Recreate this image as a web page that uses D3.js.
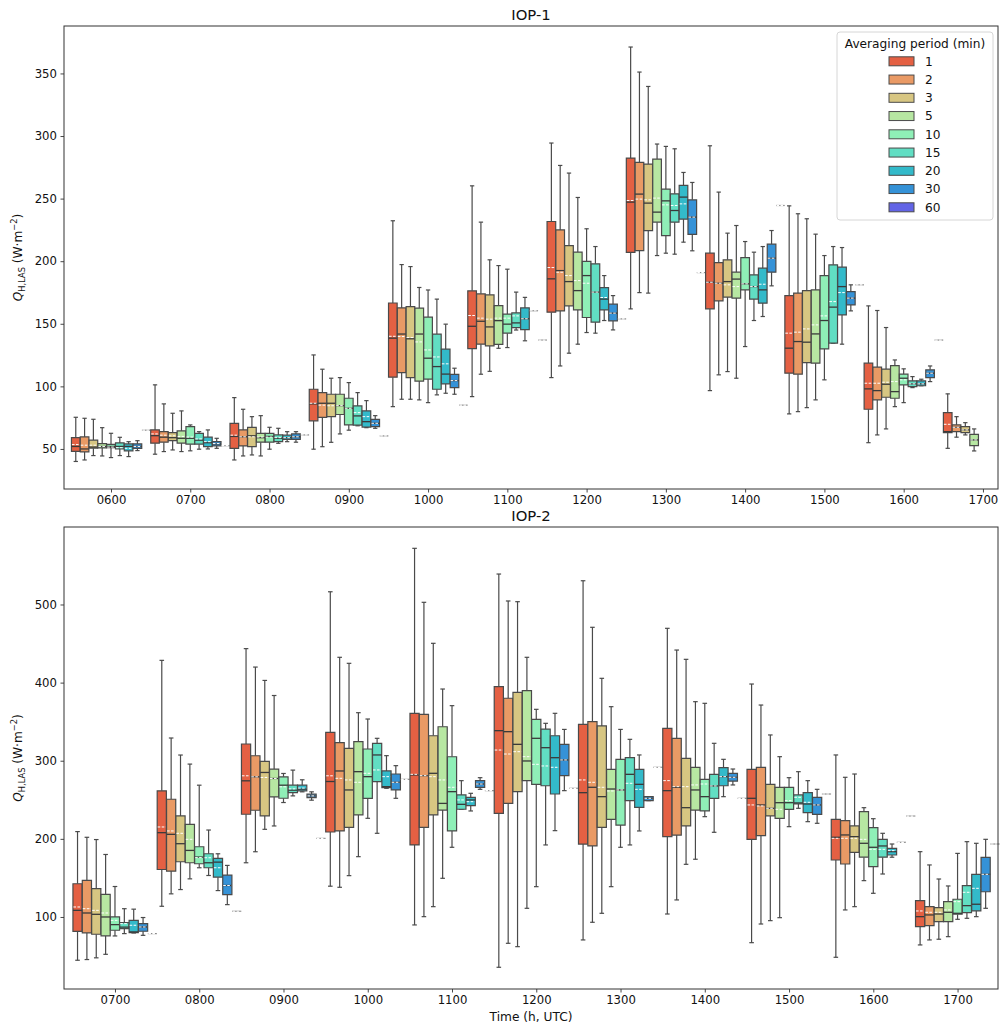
<!DOCTYPE html>
<html>
<head>
<meta charset="utf-8">
<script src="https://cdn.jsdelivr.net/npm/d3@7"></script>
<style>
  body { margin: 0; background: #fff; }
  text { font-family: "DejaVu Sans", sans-serif; }
</style>
</head>
<body>
<svg id="chart" width="1006" height="1026"></svg>
<script>
// averaging periods (hue levels) and their colours
const periods = ["1", "2", "3", "5", "10", "15", "20", "30", "60"];
const colors = ["#e46043", "#e99a65", "#d7c682", "#b7e7a2", "#8fefb7", "#61dec3", "#33baca", "#3592d7", "#6264e6"];

// each box: [whisker low, q1, median, q3, whisker high, mean]; a single number = one value; null = no data
const iop1Hours = ["0600", "0700", "0800", "0900", "1000", "1100", "1200", "1300", "1400", "1500", "1600", "1700"];
const iop1Boxes = [
  [[40, 48, 52, 59, 75.3, 53.5], [41.2, 47.6, 50, 59.6, 74.5, 53], [44.7, 50.6, 51.5, 57, 73.7, 53], [44.4, 50.8, 52, 54.2, 67, 52], [43.1, 51, 52, 53.6, 62.5, 51.5], [44.7, 50, 52, 54.8, 59.3, 51], [43.9, 48.5, 52, 54, 55.8, 50.5], [48.7, 50.5, 52, 54, 56.6, 52], 65],
  [[45.8, 54.6, 60.6, 65.2, 101.2, 62], [47.9, 55.4, 59.4, 63.8, 86, 61], [49.2, 56.6, 59, 63, 78.5, 60.5], [47.9, 54.7, 58.5, 64.4, 80.4, 60], [48.5, 53.8, 58.5, 67.8, 69.2, 59.5], [49.8, 53.8, 57, 62.4, 63.8, 58], [50, 51.8, 55, 59.4, 65.2, 55.8], [50.5, 52.4, 54, 55.8, 58.5, 54.3], 52.6],
  [[41.2, 50.5, 60, 70.5, 91, 61], [44.4, 52.4, 59.7, 65.2, 81.7, 59.7], [45.2, 51.8, 60.5, 67.3, 75.8, 59.7], [44.4, 55.4, 59, 62.5, 76.6, 59.5], [49.8, 55.4, 60, 62.5, 67.3, 59.5], [54.5, 55.8, 58.5, 61.2, 66.5, 59], [55.8, 57.7, 59, 61, 63.8, 59], [55.4, 57.7, 59.7, 62, 63.8, 59.7], 61.2],
  [[49.8, 72.5, 86, 97.7, 125.1, 86.5], [51.8, 75.3, 86.5, 95, 113.7, 85], [55.3, 75.8, 86.5, 93.7, 106.5, 84.5], [62, 77.5, 84.6, 93.7, 107, 84.6], [65, 69.2, 82.5, 90.5, 103, 82.5], [68.5, 69, 76.4, 84.4, 95, 79], [67, 67.5, 71.8, 80.4, 88.6, 75.8], [66.5, 67.8, 70.5, 73.7, 76.6, 70.5], 60.4],
  [[83.8, 107.3, 138.5, 166.6, 232.3, 140], [89.7, 111, 141.8, 162.7, 197.3, 139.8], [89.7, 107, 138, 163.7, 195.7, 139], [89.2, 104.2, 141.8, 162.5, 179, 135.5], [87, 105.8, 122.5, 155.3, 177, 129.1], [93.2, 97.7, 115.8, 141.7, 169.7, 123.5], [94.5, 102, 109.8, 129.7, 149.7, 118], [93.7, 99, 104.6, 109.5, 114.5, 104.6], 85],
  [[91.8, 130.2, 148, 176.3, 260.2, 156.6], [109.7, 133.7, 152, 173.9, 231.2, 154.5], [112, 132.3, 147.5, 173.1, 201.1, 153.7], [130.4, 133.6, 152.5, 164.5, 196.5, 154.5], [131, 142.5, 149.7, 157.7, 193.6, 154.5], [145, 147, 150.7, 158.7, 175.3, 156.3], [136.4, 145.4, 154, 162.7, 171.1, 154], 160.4, 137],
  [[107, 159.3, 185.9, 231.7, 294.4, 194.9], [116.3, 160.3, 192.5, 225, 276.5, 191.2], [126.5, 164.3, 183.7, 212.5, 270.4, 188.5], [133.7, 161.1, 176.5, 207.2, 250.9, 184.5], [143, 155, 188.5, 199.8, 225.9, 182.4], [142.5, 151.3, 175.3, 197.9, 211.7, 175.3], [152.6, 161.1, 169.7, 178.9, 188.5, 171], [145.1, 152.3, 158.5, 165.7, 172.5, 158.5], 153.9],
  [[161.9, 207, 247.2, 282.4, 371.1, 248.5], [174.9, 208.5, 253.6, 279, 351.1, 249.6], [174.5, 224.5, 246.4, 277.6, 339.6, 249], [204.5, 231.2, 239.2, 281.6, 293.6, 250.4], [206.4, 220.5, 248.2, 257.5, 291.7, 245], [205.6, 231.2, 240.5, 253.8, 289.8, 244.5], [215.2, 233.6, 251.2, 260.5, 270.9, 245.8], [208.3, 221.5, 235.2, 249, 262.9, 235.2], 190.9],
  [[96.6, 161.9, 183.2, 206.4, 292.2, 183.2], [109.2, 168.3, 182.4, 198.9, 255.2, 182.4], [111.8, 171.3, 183.7, 201.1, 222.4, 181.1], [106.5, 170.5, 185.7, 191.2, 228.5, 179.7], [131.8, 177.1, 181.9, 202.9, 215.7, 181.9], [152.6, 169.7, 179.7, 189.1, 207.2, 179.7], [155.8, 166.5, 177.1, 194.4, 211.7, 181.6], [180.3, 191.2, 202.4, 213.6, 224.5, 202.4], 244.5],
  [[78, 110.5, 130.5, 172.5, 244.2, 142.5], [79.8, 109.7, 135.8, 174.5, 237.9, 143.3], [83, 119, 135.3, 176.5, 233.9, 145.9], [89.2, 118.5, 141.9, 177.1, 221.6, 149.1], [105.2, 129.9, 152.6, 188.5, 204.5, 156.3], [134.5, 134.5, 163.3, 197.1, 211.7, 167.7], [133.7, 157.1, 179.7, 195.2, 210.9, 174.9], [160.3, 165.1, 170.5, 175.7, 181.1, 170.5], 181.1],
  [[55, 81.7, 98, 118.5, 164.3, 102.5], [61.2, 89.2, 96.6, 115.3, 160.6, 102.5], [66, 91.3, 101.7, 113.7, 147, 103.3], [83.8, 90.5, 95.8, 116.6, 121.1, 103.8], [87, 101.2, 106.5, 109.7, 114, 105.2], [99, 99.8, 102, 104.4, 107.8, 102], [100.5, 100.5, 102, 104.4, 105.7, 102], [103.8, 107, 110.5, 113.2, 116.3, 110.5], 137],
  [[50.5, 63, 63.8, 79, 94, 69.7], [59.4, 63.8, 67.3, 69.2, 75.8, 67.3], [61.2, 63, 65.2, 67.8, 71, 65.2], [48.4, 52.6, 57.2, 61.7, 66, 57.2], null, null, null, null, null]
];
const iop1YTicks = [50, 100, 150, 200, 250, 300, 350];

const iop2Hours = ["0700", "0800", "0900", "1000", "1100", "1200", "1300", "1400", "1500", "1600", "1700"];
const iop2Boxes = [
  [[44.6, 81.6, 108.5, 142.5, 209.3, 112.8], [45.5, 79.6, 105.1, 146.8, 202, 110.6], [47.7, 77.9, 103.4, 136.2, 199.1, 108.5], [52.2, 75.8, 100, 129, 180, 105.1], [75.7, 83, 90.2, 100, 139, 95.7], [78.7, 85.1, 87, 92.8, 110.6, 91.5], [79.5, 80, 80.9, 95.7, 110, 89.4], [76.5, 81.7, 87.2, 91.5, 99.3, 87.2], 78.7],
  [[113.7, 160.8, 207.9, 261.5, 428.5, 215.2], [129.6, 158.7, 205.8, 250.7, 329.1, 210.1], [135.1, 170.7, 193.8, 229.3, 307.3, 207.1], [148.8, 169.4, 185.2, 218.6, 295.7, 199.4], [163, 168.1, 176.7, 189.9, 268.7, 176], [153.1, 163, 169.4, 180.9, 211.3, 175.8], [133.8, 151, 170.2, 174.9, 180.9, 163], [115.8, 128.7, 140.3, 153.5, 166, 140.3], 107.3],
  [[169.4, 231.5, 274.3, 321.4, 443.5, 280.7], [183.5, 236.6, 279.4, 306.4, 419.9, 279.4], [212.2, 229.3, 285, 299.1, 402.8, 278.6], [216.5, 253.7, 277.3, 289.3, 383.5, 277.3], [246.5, 252, 268.7, 279.4, 283.7, 266.6], [255, 259.3, 262.3, 268.7, 288, 264], [260.2, 261.5, 263.6, 268.7, 275.6, 265], [249.5, 252.9, 255, 257.2, 260.2, 255], 200.6],
  [[139.4, 208.8, 273.4, 336.4, 516.3, 280.7], [138, 210.1, 286.9, 323.1, 432.4, 277.5], [152.9, 214.8, 262.6, 315.9, 424.7, 275.4], [177.2, 230.6, 286, 324.4, 361.5, 272.4], [226.3, 251.9, 279.6, 315, 353.4, 283.9], [207.1, 273.2, 307.4, 322.3, 328.7, 288.2], [264.7, 265.5, 266.8, 286.9, 306.5, 279.6], [251.9, 262.6, 272.4, 283, 293.7, 272.4], 276.2],
  [[89.8, 192.2, 281.8, 360.7, 571.9, 282.6], [100.4, 214.8, 280.9, 359.4, 502.8, 280.9], [113.2, 230.6, 283.9, 332, 450.3, 279.6], [149.5, 236.9, 245.4, 343.5, 391.8, 275.4], [189.2, 210.1, 260.4, 305.1, 370.5, 266], [237.9, 237.9, 244.2, 256.2, 274.5, 249.8], [235.7, 242.5, 249.8, 253.2, 258.3, 247.6], [263.4, 266, 270.2, 274.5, 278.3, 270.2], 261.7],
  [[35.6, 232.7, 338.5, 394.8, 539, 313.7], [66.3, 245.4, 337.2, 380, 504.5, 308.6], [62, 260.4, 321, 387.6, 503.6, 311.6], [111.1, 274.5, 299.7, 389.7, 432.4, 305.2], [138.8, 269.8, 328.7, 352.9, 365.8, 295.4], [192.2, 268, 316.7, 340.5, 347.9, 293.3], [210.5, 257.4, 303.9, 332, 360.7, 291.6], [261.7, 280.9, 301, 321, 340.1, 301], 264.7],
  [[70.6, 193.3, 259.1, 346.5, 530.4, 275.4], [93.2, 190.9, 266, 350, 470.8, 272.4], [104.7, 214.8, 254, 344.5, 405.5, 266], [138.8, 225, 263.8, 289, 369.2, 261.3], [189.2, 217.7, 262.6, 301.8, 340.1, 262.6], [192.2, 248.9, 282.6, 303.9, 327.4, 271.1], [210.1, 240.4, 269.8, 289, 307.4, 263.4], [248.9, 248.9, 251.9, 254, 254, 251.9], 291.6],
  [[103.8, 202.8, 261.7, 341.5, 469.5, 274.5], [121.8, 204.9, 266, 328.7, 441.7, 266.8], [167.4, 216.5, 239.9, 303.1, 429.8, 266.8], [173.9, 236.9, 262.6, 291.6, 375.6, 269], [228.4, 235.7, 254, 276.2, 373.5, 270.2], [208.4, 251.9, 267.7, 282.6, 322.3, 267.7], [254, 268, 279.6, 291.1, 301.8, 279.6], [269, 274, 278.8, 283.9, 289.4, 278.8], 251.9],
  [[67.1, 199.4, 251.9, 289, 398.2, 243.4], [91, 204.1, 243.4, 291.6, 371.3, 242.1], [95.3, 229.3, 239.1, 269.8, 333, 239.1], [99.1, 226.3, 246.3, 266, 305.2, 237.8], [215.6, 237.8, 246.3, 266, 278.3, 248.9], [239.1, 244.7, 246, 256.2, 286, 253.2], [222, 233.5, 244.6, 259.1, 274.5, 246.8], [219.9, 231.4, 243.4, 253.2, 263.4, 243.4], 257.4],
  [[48.4, 172.9, 202, 225, 307.4, 200.7], [109, 167.8, 205, 223.3, 278.8, 200.7], [113.2, 182.8, 202.8, 216.5, 283, 200.7], [146.5, 176.5, 194.3, 234.8, 239.9, 199.4], [130.3, 164.4, 189.2, 214.3, 225.8, 186.6], [155, 176.5, 190.9, 199.4, 207.1, 186.6], [176.5, 179.3, 183.6, 187.9, 193.4, 184.9], 195.6, 229.2],
  [[64.2, 87.6, 100.4, 120.9, 183.6, 107.7], [70.6, 88.9, 102.6, 113.2, 166.6, 106], [71.5, 94, 103.8, 111.9, 148.6, 106], [74.8, 94, 106, 119.6, 139.7, 109], [97, 103.5, 104.7, 122.7, 181.4, 119.6], [98.3, 105.5, 114.5, 140.1, 196.4, 131.6], [100.4, 107.9, 116.3, 154.5, 194.3, 136.7], [111.1, 132.3, 154.6, 176.3, 199.4, 154.6], 193.4]
];
const iop2YTicks = [100, 200, 300, 400, 500];

const svg = d3.select("#chart");
const left = 64, right = 998;
const edge = "#4a4a4a";

function drawPanel(p) {
    const x = d3.scaleLinear().domain(p.xDomain).range([left, right]);
    const y = d3.scaleLinear().domain(p.yDomain).range([p.bottom, p.top]);
    const g = svg.append("g");
    const slot = 1 / periods.length;
    const halfW = (x(slot * 0.98) - x(0)) / 2;
    const capW = halfW / 2;

    p.boxes.forEach((row, i) => {
        row.forEach((b, k) => {
            if (b == null) return;
            const single = typeof b === "number";
            const s = single ? [b, b, b, b, b, b] : b;
            const [lo, q1, med, q3, hi, mean] = s;
            const cx = x(i - 0.5 + slot * (k + 0.5));
            const bg = g.append("g");

            if (single) {
                // one value only: flat box, shows as a short grey line with the white mean dashes
                bg.append("line").attr("x1", cx - halfW).attr("x2", cx + halfW).attr("y1", y(med)).attr("y2", y(med))
                    .attr("stroke", "#8a8a8a").attr("stroke-width", 1.2);
                bg.append("line").attr("x1", cx - halfW + 0.5).attr("x2", cx + halfW - 0.5).attr("y1", y(mean)).attr("y2", y(mean))
                    .attr("stroke", "#fff").attr("stroke-width", 1.2)
                    .attr("stroke-dasharray", "2.6,1.4");
                return;
            }

            // whiskers and caps
            bg.append("line").attr("x1", cx).attr("x2", cx).attr("y1", y(q3)).attr("y2", y(hi))
                .attr("stroke", edge).attr("stroke-width", 1.2);
            bg.append("line").attr("x1", cx).attr("x2", cx).attr("y1", y(q1)).attr("y2", y(lo))
                .attr("stroke", edge).attr("stroke-width", 1.2);
            [lo, hi].forEach(v => {
                bg.append("line").attr("x1", cx - capW).attr("x2", cx + capW).attr("y1", y(v)).attr("y2", y(v))
                    .attr("stroke", edge).attr("stroke-width", 1.2);
            });

            // box (path so a very flat box still shows as a line)
            bg.append("path")
                .attr("d", `M${cx - halfW},${y(q3)}H${cx + halfW}V${y(q1)}H${cx - halfW}Z`)
                .attr("fill", colors[k])
                .attr("stroke", edge)
                .attr("stroke-width", 1.2);

            bg.append("line").attr("x1", cx - halfW).attr("x2", cx + halfW).attr("y1", y(med)).attr("y2", y(med))
                .attr("stroke", "#3a3a3a").attr("stroke-width", 1.3);

            // mean as white dashed line
            bg.append("line").attr("x1", cx - halfW + 0.5).attr("x2", cx + halfW - 0.5).attr("y1", y(mean)).attr("y2", y(mean))
                .attr("stroke", "#fff").attr("stroke-width", 1)
                .attr("stroke-dasharray", "2.6,1.4");
        });
    });

    // axes
    const xAxis = d3.axisBottom(x)
        .tickValues(d3.range(p.hours.length))
        .tickFormat(i => p.hours[i])
        .tickSize(3.5).tickPadding(3.5);
    const gx = svg.append("g").attr("transform", `translate(0,${p.bottom})`).call(xAxis);

    const yAxis = d3.axisLeft(y).tickValues(p.yTicks).tickSize(3.5).tickPadding(3.5);
    const gy = svg.append("g").attr("transform", `translate(${left},0)`).call(yAxis);

    [gx, gy].forEach(a => {
        a.select(".domain").remove();
        a.selectAll(".tick line").attr("stroke", "#333").attr("stroke-width", 0.9);
        a.selectAll(".tick text").attr("font-size", "11.7px").attr("fill", "#111")
            .style("font-family", "'DejaVu Sans', sans-serif");
    });

    svg.append("rect")
        .attr("x", left).attr("y", p.top)
        .attr("width", right - left).attr("height", p.bottom - p.top)
        .attr("fill", "none").attr("stroke", "#333").attr("stroke-width", 1);

    svg.append("text")
        .attr("x", (left + right) / 2).attr("y", p.top - 6)
        .attr("text-anchor", "middle").attr("font-size", "14.8px").attr("fill", "#111")
        .text(p.title);

    // y label: Q_{H,LAS} (W·m^-2)
    const yl = svg.append("text")
        .attr("transform", `translate(22,${(p.top + p.bottom) / 2}) rotate(-90)`)
        .attr("text-anchor", "middle").attr("font-size", "12.2px").attr("fill", "#111");
    yl.append("tspan").attr("font-style", "italic").text("Q");
    yl.append("tspan").attr("font-size", "8.3px").attr("dy", 2.6).text("H,LAS");
    yl.append("tspan").attr("dy", -2.6).text(" (W·m");
    yl.append("tspan").attr("font-size", "8.3px").attr("dy", -5).text("−2");
    yl.append("tspan").attr("dy", 5).text(")");
}

drawPanel({
    title: "IOP-1", hours: iop1Hours, boxes: iop1Boxes, yTicks: iop1YTicks,
    top: 26, bottom: 489, xDomain: [-0.593, 11.19], yDomain: [18.0, 387.9]
});
drawPanel({
    title: "IOP-2", hours: iop2Hours, boxes: iop2Boxes, yTicks: iop2YTicks,
    top: 527, bottom: 989, xDomain: [-0.605, 10.48], yDomain: [7.8, 599.2]
});

svg.append("text")
    .attr("x", (left + right) / 2).attr("y", 1021)
    .attr("text-anchor", "middle").attr("font-size", "12.2px").attr("fill", "#111")
    .text("Time (h, UTC)");

// legend
const lg = svg.append("g");
lg.append("rect")
    .attr("x", 837).attr("y", 32).attr("width", 156).attr("height", 188).attr("rx", 3)
    .attr("fill", "#fff").attr("fill-opacity", 0.8)
    .attr("stroke", "#d6d6d6").attr("stroke-width", 1);
lg.append("text")
    .attr("x", 915).attr("y", 48)
    .attr("text-anchor", "middle").attr("font-size", "12.2px").attr("fill", "#111")
    .text("Averaging period (min)");
periods.forEach((pd, k) => {
    const cy = 61.3 + k * 18.25;
    lg.append("rect")
        .attr("x", 889).attr("y", cy - 4.5).attr("width", 25).attr("height", 9)
        .attr("fill", colors[k]).attr("stroke", edge).attr("stroke-width", 1);
    lg.append("text")
        .attr("x", 925).attr("y", cy + 4.4)
        .attr("font-size", "12.2px").attr("fill", "#111")
        .text(pd);
});
</script>
</body>
</html>
